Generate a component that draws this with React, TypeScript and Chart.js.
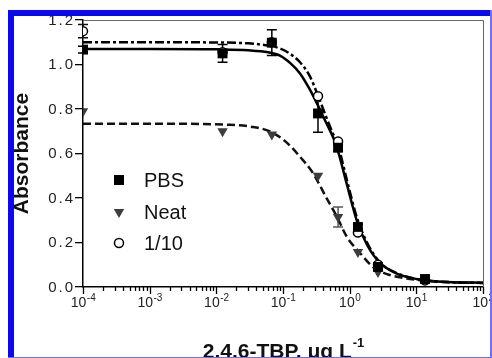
import React, { useEffect, useRef } from 'react';
import { Chart, registerables } from 'chart.js';

Chart.register(...registerables);

const W = 492;
const H = 358;

// ---- measured data (concentration in µg/L, absorbance) ----
const concentrations = [0.0001, 0.0124, 0.068, 0.335, 0.67, 1.33, 2.66, 13.5];
const pbsValues = [1.067, 1.05, 1.098, 0.78, 0.626, 0.27, 0.09, 0.036];
const pbsErrors = [0.015, 0.04, 0.058, 0.084, 0.015, 0.012, 0.01, 0.01];
const neatValues = [0.79, 0.70, 0.685, 0.50, 0.315, 0.157, 0.067, 0.03];
const neatErrors = [0, 0, 0, 0, 0.045, 0, 0, 0];
const dilValues = [1.15, 1.055, 1.10, 0.857, 0.654, 0.245, 0.10, 0.03];
const dilErrors = [0.03, 0, 0, 0, 0, 0, 0, 0];

// ---- fitted curves ----
const pbsFitX = [0.0001, 0.001, 0.01, 0.03, 0.06, 0.09, 0.13, 0.18, 0.25, 0.335, 0.45, 0.56, 0.67, 0.91, 1.29, 1.82, 2.85, 5.1, 8, 13.5, 30, 100];
const pbsFitY = [1.07, 1.07, 1.068, 1.064, 1.055, 1.04, 1.005, 0.96, 0.89, 0.815, 0.735, 0.675, 0.61, 0.46, 0.295, 0.19, 0.108, 0.06, 0.042, 0.03, 0.022, 0.019];
const neatFitX = [0.0001, 0.001, 0.016, 0.032, 0.064, 0.115, 0.18, 0.28, 0.457, 0.646, 0.91, 1.43, 2.24, 3.63, 8, 20, 100];
const neatFitY = [0.734, 0.734, 0.729, 0.721, 0.699, 0.648, 0.585, 0.513, 0.396, 0.315, 0.225, 0.153, 0.09, 0.058, 0.036, 0.024, 0.018];
const dilFitX = [0.0001, 0.001, 0.01, 0.03, 0.06, 0.09, 0.125, 0.18, 0.25, 0.335, 0.45, 0.56, 0.67, 0.91, 1.29, 1.82, 2.85, 5.1, 8, 13.5, 30, 100];
const dilFitY = [1.10, 1.10, 1.099, 1.095, 1.085, 1.072, 1.05, 1.01, 0.95, 0.86, 0.76, 0.69, 0.635, 0.48, 0.31, 0.2, 0.11, 0.062, 0.043, 0.03, 0.022, 0.018];

// ---- axes ----
const yTickValues = [0, 0.2, 0.4, 0.6, 0.8, 1.0, 1.2];
const yTickLabels = ['0.0', '0.2', '0.4', '0.6', '0.8', '1.0', '1.2'];
const xTickExponents = [-4, -3, -2, -1, 0, 1, 2];
const xMinorMultipliers = [2, 3, 4, 5, 6, 7, 8, 9];
const xTitle = '2,4,6-TBP, μg L';
const xTitleSup = '-1';
const yTitle = 'Absorbance';
const legendLabels = ['PBS', 'Neat', '1/10'];

const zip = (xs: number[], ys: number[]) => xs.map((x, i) => ({ x, y: ys[i] }));

const FONT = '"Liberation Sans", Arial, Helvetica, sans-serif';
const NEAT_COLOR = '#3d3d3d';

const errorBarPlugin = {
  id: 'errorBars',
  beforeDatasetsDraw(chart: any) {
    const ctx = chart.ctx;
    const ys = chart.scales.y;
    chart.data.datasets.forEach((ds: any, i: number) => {
      if (!ds.errors) return;
      const meta = chart.getDatasetMeta(i);
      meta.data.forEach((pt: any, j: number) => {
        const e = ds.errors[j];
        if (!e) return;
        const v = ds.data[j].y;
        const top = ys.getPixelForValue(v + e);
        const bot = ys.getPixelForValue(v - e);
        ctx.save();
        ctx.strokeStyle = ds.errorColor || '#000';
        ctx.lineWidth = 1.5;
        ctx.beginPath();
        ctx.moveTo(pt.x, top);
        ctx.lineTo(pt.x, bot);
        ctx.moveTo(pt.x - 5, top);
        ctx.lineTo(pt.x + 5, top);
        ctx.moveTo(pt.x - 5, bot);
        ctx.lineTo(pt.x + 5, bot);
        ctx.stroke();
        ctx.restore();
      });
    });
  },
};

function drawMarker(ctx: CanvasRenderingContext2D, kind: string, x: number, y: number) {
  ctx.save();
  if (kind === 'rect') {
    ctx.fillStyle = '#000';
    ctx.fillRect(x - 5, y - 5, 10, 10);
  } else if (kind === 'tri') {
    ctx.fillStyle = NEAT_COLOR;
    ctx.beginPath();
    ctx.moveTo(x - 5.2, y - 3);
    ctx.lineTo(x + 5.2, y - 3);
    ctx.lineTo(x, y + 6);
    ctx.closePath();
    ctx.fill();
  } else {
    ctx.strokeStyle = '#000';
    ctx.fillStyle = '#fff';
    ctx.lineWidth = 1.5;
    ctx.beginPath();
    ctx.arc(x, y, 4.5, 0, Math.PI * 2);
    ctx.fill();
    ctx.stroke();
  }
  ctx.restore();
}

const decorPlugin = {
  id: 'decor',
  afterDraw(chart: any) {
    const ctx: CanvasRenderingContext2D = chart.ctx;
    const xs = chart.scales.x;
    const ys = chart.scales.y;
    const area = chart.chartArea;

    // plot box (top / right)
    ctx.save();
    ctx.strokeStyle = '#666';
    ctx.lineWidth = 1;
    ctx.beginPath();
    ctx.moveTo(area.left, area.top + 0.5);
    ctx.lineTo(area.right + 0.5, area.top + 0.5);
    ctx.lineTo(area.right + 0.5, area.bottom);
    ctx.stroke();
    ctx.restore();

    ctx.save();
    // y tick labels
    ctx.fillStyle = '#222';
    ctx.font = `15px ${FONT}`;
    ctx.textAlign = 'right';
    ctx.textBaseline = 'middle';
    (ctx as any).letterSpacing = '2px';
    yTickValues.forEach((v, i) => {
      ctx.fillText(yTickLabels[i], 75, ys.getPixelForValue(v) + 0.5);
    });
    (ctx as any).letterSpacing = '0px';

    // x ticks
    ctx.strokeStyle = '#000';
    ctx.lineWidth = 1.3;
    ctx.beginPath();
    xTickExponents.forEach((e) => {
      const px = Math.round(xs.getPixelForValue(Math.pow(10, e))) + 0.5;
      ctx.moveTo(px, area.bottom);
      ctx.lineTo(px, area.bottom + 7);
      if (e < xTickExponents[xTickExponents.length - 1]) {
        xMinorMultipliers.forEach((m) => {
          const mx = Math.round(xs.getPixelForValue(m * Math.pow(10, e))) + 0.5;
          ctx.moveTo(mx, area.bottom);
          ctx.lineTo(mx, area.bottom + 4);
        });
      }
    });
    ctx.stroke();

    // x tick labels 10^e
    ctx.fillStyle = '#222';
    ctx.textBaseline = 'alphabetic';
    ctx.textAlign = 'left';
    xTickExponents.forEach((e) => {
      const px = xs.getPixelForValue(Math.pow(10, e));
      ctx.font = `14px ${FONT}`;
      const wBase = ctx.measureText('10').width;
      ctx.font = `10px ${FONT}`;
      const sup = String(e);
      const wSup = ctx.measureText(sup).width;
      const start = px - (wBase + wSup) / 2;
      ctx.font = `14px ${FONT}`;
      ctx.fillText('10', start, 306.5);
      ctx.font = `10px ${FONT}`;
      ctx.fillText(sup, start + wBase + 0.5, 300.5);
    });

    // x title
    ctx.fillStyle = '#111';
    ctx.font = `bold 21px ${FONT}`;
    const wT = ctx.measureText(xTitle).width;
    ctx.font = `bold 13px ${FONT}`;
    const wS = ctx.measureText(xTitleSup).width;
    const cx = (area.left + area.right) / 2;
    const tStart = cx - (wT + wS) / 2;
    ctx.font = `bold 21px ${FONT}`;
    ctx.fillText(xTitle, tStart, 357.5);
    ctx.font = `bold 13px ${FONT}`;
    ctx.fillText(xTitleSup, tStart + wT + 1, 347);

    // y title
    ctx.save();
    ctx.translate(27.5, (area.top + area.bottom) / 2);
    ctx.rotate(-Math.PI / 2);
    ctx.textAlign = 'center';
    ctx.font = `bold 21px ${FONT}`;
    ctx.fillText(yTitle, 0, 0);
    ctx.restore();

    // legend
    const kinds = ['rect', 'tri', 'circle'];
    const ly = [180, 212, 243];
    legendLabels.forEach((lab, i) => {
      drawMarker(ctx, kinds[i], 119, ly[i]);
      ctx.fillStyle = '#111';
      ctx.font = `20px ${FONT}`;
      ctx.textBaseline = 'middle';
      ctx.textAlign = 'left';
      ctx.fillText(lab, 144, ly[i] + 1);
    });
    ctx.restore();

    // blue frame
    ctx.save();
    ctx.fillStyle = '#0a0af0';
    ctx.fillRect(8, 10, W - 8, 6);
    ctx.fillRect(8, 10, 6, H - 10);
    ctx.fillStyle = '#6f72f0';
    ctx.fillRect(490, 10, 2, H - 10);
    ctx.fillRect(8, 357, W - 8, 1);
    ctx.restore();
  },
};

export default function App() {
  const ref = useRef<HTMLCanvasElement>(null);

  useEffect(() => {
    if (!ref.current) return;
    const lineBase = {
      type: 'line' as const,
      showLine: true,
      pointRadius: 0,
      borderWidth: 2.5,
      cubicInterpolationMode: 'monotone' as const,
      fill: false,
    };
    const chart = new Chart(ref.current, {
      type: 'line',
      data: {
        datasets: [
          { ...lineBase, label: 'PBS fit', data: zip(pbsFitX, pbsFitY), borderColor: '#000', order: 6 },
          { ...lineBase, label: 'Neat fit', data: zip(neatFitX, neatFitY), borderColor: '#111', borderDash: [8, 4], order: 5 },
          { ...lineBase, label: '1/10 fit', data: zip(dilFitX, dilFitY), borderColor: '#000', borderDash: [9, 3, 3, 3], order: 4 },
          {
            label: '1/10', data: zip(concentrations, dilValues), showLine: false,
            pointStyle: 'circle', pointRadius: 4.5, pointBackgroundColor: '#fff',
            pointBorderColor: '#000', pointBorderWidth: 1.5, order: 3,
            errors: dilErrors, errorColor: '#111',
          } as any,
          {
            label: 'Neat', data: zip(concentrations, neatValues), showLine: false,
            pointStyle: 'triangle', rotation: 180, pointRadius: 6,
            pointBackgroundColor: NEAT_COLOR, pointBorderColor: NEAT_COLOR, pointBorderWidth: 0, order: 2,
            errors: neatErrors, errorColor: '#555',
          } as any,
          {
            label: 'PBS', data: zip(concentrations, pbsValues), showLine: false,
            pointStyle: 'rect', pointRadius: 7, pointBackgroundColor: '#000',
            pointBorderColor: '#000', pointBorderWidth: 0, order: 1,
            errors: pbsErrors, errorColor: '#000',
          } as any,
        ],
      },
      options: {
        responsive: false,
        animation: false,
        events: [],
        devicePixelRatio: 1,
        layout: { padding: { left: 0, top: 20, right: 9, bottom: 0 } },
        plugins: { legend: { display: false }, tooltip: { enabled: false }, title: { display: false } },
        scales: {
          x: {
            type: 'logarithmic',
            min: 0.0001,
            max: 100,
            ticks: { display: false },
            grid: { display: false },
            border: { display: true, color: '#000', width: 1.5 },
            afterFit: (s: any) => { s.height = 71; },
          },
          y: {
            type: 'linear',
            min: 0,
            max: 1.2,
            afterBuildTicks: (s: any) => { s.ticks = yTickValues.map((v) => ({ value: v })); },
            ticks: { display: false },
            grid: { display: true, drawOnChartArea: false, drawTicks: true, tickLength: 8, color: '#000', lineWidth: 1.3 },
            border: { display: true, color: '#000', width: 1.5 },
            afterFit: (s: any) => { s.width = 83; },
          },
        },
      },
      plugins: [errorBarPlugin, decorPlugin],
    } as any);
    return () => chart.destroy();
  }, []);

  return (
    <div style={{ position: 'fixed', left: 0, top: 0, width: W, height: H, background: '#fff' }}>
      <canvas ref={ref} width={W} height={H} style={{ width: W, height: H, display: 'block' }} />
    </div>
  );
}
